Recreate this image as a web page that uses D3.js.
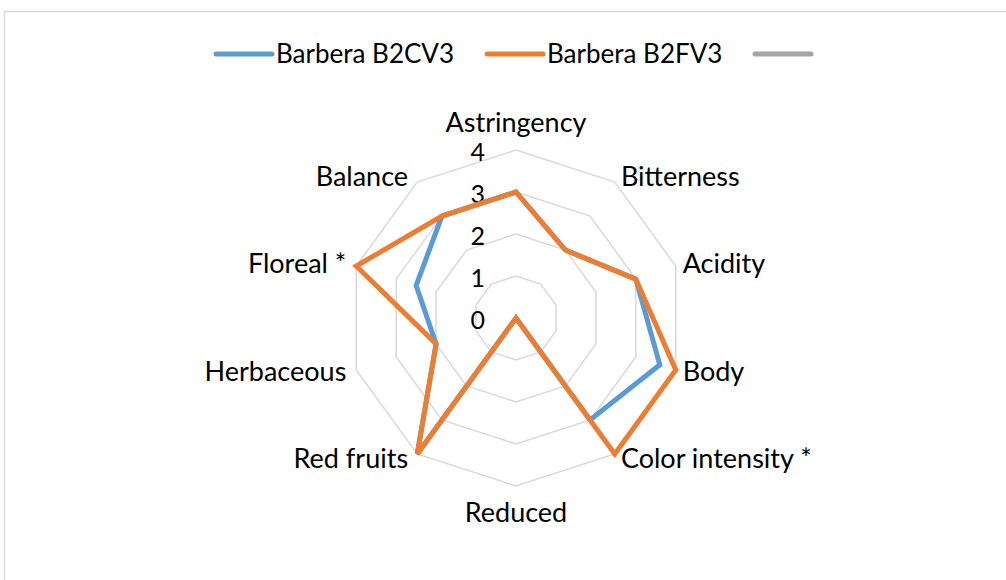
<!DOCTYPE html>
<html>
<head>
<meta charset="utf-8">
<script src="https://cdn.jsdelivr.net/npm/d3@7"></script>
<style>
	body { margin: 0; background: #fff; }
	text { font-family: Lato, "Open Sans", sans-serif; fill: #000; }
</style>
</head>
<body>
<svg class="chart"></svg>
<script>
// chart data
var categories = ["Astringency", "Bitterness", "Acidity", "Body", "Color intensity *",
	"Reduced", "Red fruits", "Herbaceous", "Floreal *", "Balance"];
var seriesNames = ["Barbera B2CV3", "Barbera B2FV3", ""];
var b2cv3 = [3, 2, 3, 3.6, 3, 0, 4, 2, 2.5, 3];
var b2fv3 = [3, 2, 3, 4, 4, 0, 4, 2, 4, 3];
var ticks = [0, 1, 2, 3, 4];
var colors = ["#5b9bd5", "#ed7d31", "#a5a5a5"];

var width = 1006, height = 580;
var cx = 516, cy = 318, radius = 168;

var svg = d3.select(".chart")
	.attr("width", width)
	.attr("height", height);

// chart border (runs off the right and bottom edge)
svg.append("rect")
	.attr("x", 4.5).attr("y", 11.5)
	.attr("width", 1020).attr("height", 600)
	.attr("fill", "none")
	.attr("stroke", "#d9d9d9")
	.attr("stroke-width", 1.5);

var r = d3.scaleLinear().domain([0, 4]).range([0, radius]);
var n = categories.length;
function angle(i) { return i * 2 * Math.PI / n; }

var g = svg.append("g").attr("transform", "translate(" + cx + "," + cy + ")");

var radial = d3.lineRadial()
	.angle(function(d, i) { return angle(i); })
	.radius(function(d) { return r(d); })
	.curve(d3.curveLinearClosed);

// grid decagons
g.selectAll(".grid")
	.data(ticks.filter(function(t) { return t > 0; }))
	.enter().append("path")
	.attr("class", "grid")
	.attr("d", function(t) { return radial(categories.map(function() { return t; })); })
	.attr("fill", "none")
	.attr("stroke", "#d9d9d9")
	.attr("stroke-width", 1.5);

// tick labels
g.selectAll(".tick")
	.data(ticks)
	.enter().append("text")
	.attr("class", "tick")
	.attr("x", -31)
	.attr("y", function(t) { return -r(t) + 11; })
	.attr("text-anchor", "end")
	.style("font-size", "25px")
	.text(function(t) { return t; });

// category labels
g.selectAll(".cat")
	.data(categories)
	.enter().append("text")
	.attr("class", "cat")
	.style("font-size", "27px")
	.attr("text-anchor", function(d, i) {
		var s = Math.sin(angle(i));
		if (Math.abs(s) < 0.01) return "middle";
		return s > 0 ? "start" : "end";
	})
	.attr("x", function(d, i) {
		var s = Math.sin(angle(i));
		return (radius + 2) * s + (s > 0.01 ? 5 : (s < -0.01 ? -8 : 0));
	})
	.attr("y", function(d, i) {
		var c = -Math.cos(angle(i));
		var y = (radius + 9) * c;
		if (c < -0.99) return y - 9;
		if (c > 0.99) return y + 27;
		return -(radius) * Math.cos(angle(i)) - 6 * Math.cos(angle(i)) + 9;
	})
	.text(function(d) { return d; });

// series
var series = [b2cv3, b2fv3];
g.selectAll(".series")
	.data(series)
	.enter().append("path")
	.attr("class", "series")
	.attr("d", function(d) { return radial(d); })
	.attr("fill", "none")
	.attr("stroke", function(d, i) { return colors[i]; })
	.attr("stroke-width", 5)
	.attr("stroke-linejoin", "miter");

// legend
var legendX = [216, 487, 755];
var legend = svg.selectAll(".legend")
	.data(seriesNames)
	.enter().append("g")
	.attr("class", "legend")
	.attr("transform", function(d, i) { return "translate(" + legendX[i] + ",54)"; });

legend.append("line")
	.attr("x1", 0).attr("x2", 56)
	.attr("stroke", function(d, i) { return colors[i]; })
	.attr("stroke-width", 5)
	.attr("stroke-linecap", "round");

legend.append("text")
	.attr("x", 60)
	.attr("y", 9)
	.style("font-size", "26px")
	.text(function(d) { return d; });
</script>
</body>
</html>
